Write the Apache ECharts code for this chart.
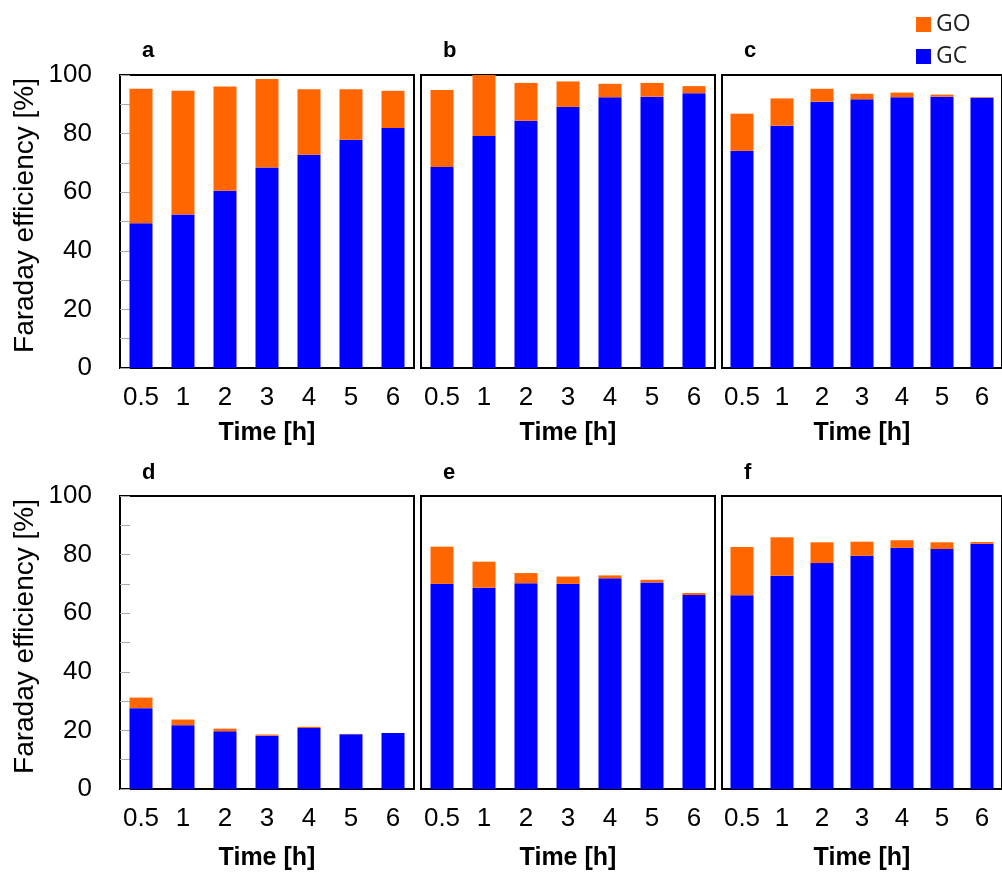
<!DOCTYPE html>
<html>
<head>
<meta charset="utf-8">
<script src="https://cdn.jsdelivr.net/npm/echarts@6/dist/echarts.min.js"></script>
<style>
  body { margin: 0; background: #fff; }
  #main { width: 1002px; height: 872px; }
</style>
</head>
<body>
<div id="main"></div>
<script>
// 横轴类别
let times = ['0.5', '1', '2', '3', '4', '5', '6']
let panelNames = ['a', 'b', 'c', 'd', 'e', 'f']

// GC 部分 (蓝色)
let gcA = [49.4, 52.4, 60.5, 68.4, 72.8, 77.9, 81.9]
let gcB = [68.6, 79.2, 84.4, 89.1, 92.4, 92.6, 93.8]
let gcC = [74.1, 82.7, 90.9, 91.7, 92.4, 92.6, 92.2]
let gcD = [27.6, 21.8, 19.7, 18.2, 20.8, 18.7, 19.1]
let gcE = [70.0, 68.7, 70.2, 70.0, 71.9, 70.5, 66.2]
let gcF = [66.1, 72.8, 77.1, 79.6, 82.3, 81.9, 83.7]

// GO 部分 (橙色, 叠在上面)
let goA = [45.9, 42.2, 35.6, 30.2, 22.3, 17.2, 12.7]
let goB = [26.3, 20.8, 12.9, 8.7, 4.6, 4.7, 2.4]
let goC = [12.7, 9.3, 4.4, 1.9, 1.6, 0.7, 0.2]
let goD = [3.6, 1.9, 0.9, 0.4, 0.4, 0.1, 0]
let goE = [12.7, 8.9, 3.5, 2.5, 1.0, 0.9, 0.7]
let goF = [16.5, 13.1, 7.1, 4.8, 2.6, 2.3, 0.6]

let yTicks = [0, 20, 40, 60, 80, 100]

let gcAll = [gcA, gcB, gcC, gcD, gcE, gcF]
let goAll = [goA, goB, goC, goD, goE, goF]

let myChart = echarts.init(document.getElementById('main'))
let font = 'Liberation Sans, Arial, sans-serif'

// 每个小图的位置
let lefts = [120, 421, 722]
let tops = [75, 496]
let grids = [], xAxes = [], yAxes = [], series = [], titles = []

for (let i = 0; i < 6; i++) {
    let col = i % 3
    let row = Math.floor(i / 3)
    grids.push({
        left: lefts[col], top: tops[row], width: 294, height: 293,
        show: true, borderColor: '#000', borderWidth: 2, backgroundColor: 'transparent'
    })
    xAxes.push({
        type: 'category', gridIndex: i, data: times,
        axisLine: { show: false },
        axisTick: { show: false },
        axisLabel: { interval: 0, color: '#000', fontSize: 26, fontFamily: font, margin: 17 },
        name: 'Time [h]', nameLocation: 'middle', nameGap: row === 0 ? 53 : 57,
        nameTextStyle: { color: '#000', fontSize: 25, fontWeight: 'bold', fontFamily: font }
    })
    let first = col === 0
    yAxes.push({
        type: 'value', gridIndex: i, min: yTicks[0], max: yTicks[yTicks.length - 1], interval: 20,
        axisLine: { show: false },
        splitLine: { show: false },
        axisTick: { show: first, inside: true, length: 10, lineStyle: { color: '#aaa' } },
        minorTick: { show: first, splitNumber: 2, length: 10, lineStyle: { color: '#aaa' } },
        axisLabel: { show: first, color: '#000', fontSize: 26, fontFamily: font, margin: 28 },
        name: first ? 'Faraday efficiency [%]' : '', nameLocation: 'middle', nameGap: 81,
        nameTextStyle: { color: '#000', fontSize: 28, fontFamily: font, padding: [0, 0, 0, 12] }
    })
    series.push({
        name: 'GC', type: 'bar', stack: 's' + i, xAxisIndex: i, yAxisIndex: i,
        data: gcAll[i], barWidth: 23,
        itemStyle: { color: '#0000ff' }
    })
    series.push({
        name: 'GO', type: 'bar', stack: 's' + i, xAxisIndex: i, yAxisIndex: i,
        data: goAll[i], barWidth: 23,
        itemStyle: { color: '#ff6600' }
    })
    titles.push({
        text: panelNames[i],
        left: lefts[col] + 17, top: row === 0 ? 35 : 457,
        textStyle: { color: '#000', fontSize: 22, fontWeight: 'bold', fontFamily: font }
    })
}

let option = {
    animation: false,
    title: titles,
    legend: {
        data: ['GO', 'GC'],
        orient: 'vertical', left: 911, top: 8,
        itemWidth: 15, itemHeight: 15, itemGap: 9,
        icon: 'rect',
        textStyle: { color: '#222', fontSize: 23, fontFamily: 'Open Sans, sans-serif' }
    },
    grid: grids,
    xAxis: xAxes,
    yAxis: yAxes,
    series: series
}
myChart.setOption(option)
</script>
</body>
</html>
